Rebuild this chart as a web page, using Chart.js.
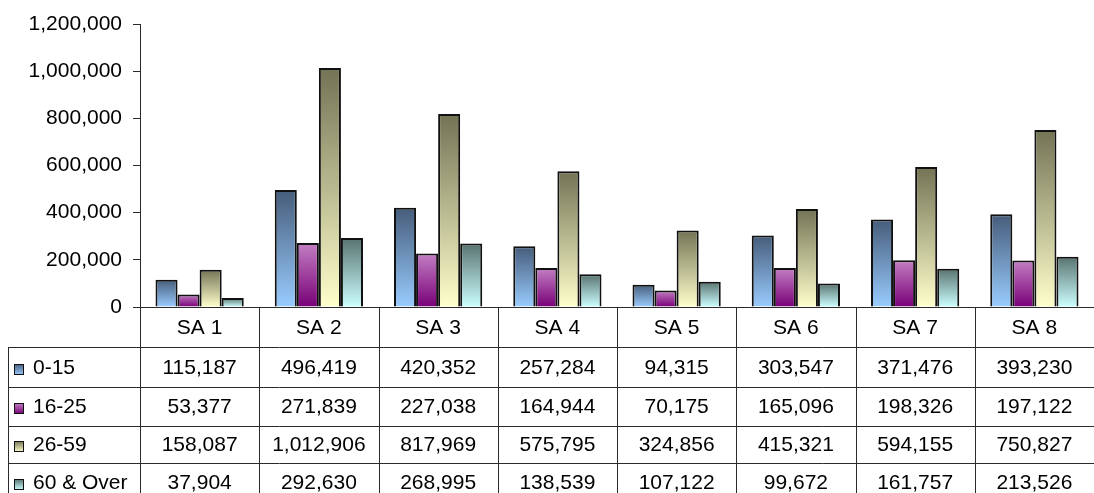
<!DOCTYPE html>
<html>
<head>
<meta charset="utf-8">
<script src="https://cdn.jsdelivr.net/npm/chart.js@4/dist/chart.umd.min.js"></script>
<style>
  html, body { margin: 0; padding: 0; background: #ffffff; }
  #wrap { width: 1094px; height: 493px; position: relative; }
</style>
</head>
<body>
<div id="wrap"><canvas id="chart"></canvas></div>
<script>
// Population by age band for each service area
const categories = ['SA 1', 'SA 2', 'SA 3', 'SA 4', 'SA 5', 'SA 6', 'SA 7', 'SA 8'];
const seriesNames = ['0-15', '16-25', '26-59', '60 & Over'];
const age0to15  = [115187, 496419, 420352, 257284, 94315, 303547, 371476, 393230];
const age16to25 = [53377, 271839, 227038, 164944, 70175, 165096, 198326, 197122];
const age26to59 = [158087, 1012906, 817969, 575795, 324856, 415321, 594155, 750827];
const age60plus = [37904, 292630, 268995, 138539, 107122, 99672, 161757, 213526];
const yMin = 0, yMax = 1200000, yStep = 200000;

// gradient colours (top of bar, bottom of bar)
const palette = [
  ['#465c7a', '#99ccff'],
  ['#c37fc3', '#780078'],
  ['#737355', '#ffffcc'],
  ['#587370', '#ccffff']
];

const FONT = '"Liberation Sans", Arial, Helvetica, sans-serif';
const fmt = v => v.toLocaleString('en-US');

function barGradient(idx) {
  return function (ctx) {
    const chart = ctx.chart;
    if (!chart.chartArea || ctx.type !== 'data') return palette[idx][1];
    const y = chart.scales.y;
    const top = y.getPixelForValue(ctx.raw);
    const base = y.getPixelForValue(0);
    if (base - top < 1) return palette[idx][1];
    const g = chart.ctx.createLinearGradient(0, top, 0, base);
    g.addColorStop(0, palette[idx][0]);
    g.addColorStop(1, palette[idx][1]);
    return g;
  };
}

const allSeries = [age0to15, age16to25, age26to59, age60plus];

// data table under the plot: header row with categories, one row per series
const tableRows = [307, 347, 387, 426, 463, 501];
const tableLeft = 8;
const lineColor = '#2a2a2a';

const dataTable = {
  id: 'dataTable',
  afterDraw(chart) {
    const c = chart.ctx;
    const area = chart.chartArea;
    const xs = chart.scales.x;
    const ys = chart.scales.y;
    const zeroY = Math.round(ys.getPixelForValue(0)) + 0.5;
    const n = categories.length;
    const centers = categories.map((_, i) => xs.getPixelForValue(i));
    const bounds = [area.left];
    for (let i = 1; i < n; i++) bounds.push((centers[i - 1] + centers[i]) / 2);
    bounds.push(area.right);

    c.save();
    c.lineWidth = 1;
    c.strokeStyle = lineColor;

    // zero line / top of header row
    c.beginPath();
    c.moveTo(area.left, zeroY);
    c.lineTo(area.right, zeroY);
    c.stroke();

    // vertical cell borders
    const H = chart.height;
    bounds.forEach((bx, i) => {
      if (i === bounds.length - 1) return;
      const x = Math.round(bx) + 0.5;
      c.beginPath();
      c.moveTo(x, zeroY);
      c.lineTo(x, H);
      c.stroke();
    });
    c.beginPath();
    c.moveTo(tableLeft + 0.5, tableRows[1]);
    c.lineTo(tableLeft + 0.5, H);
    c.stroke();

    // horizontal row borders
    for (let r = 1; r <= seriesNames.length; r++) {
      const y = tableRows[r] + 0.5;
      c.beginPath();
      c.moveTo(tableLeft, y);
      c.lineTo(area.right, y);
      c.stroke();
    }

    c.fillStyle = '#000';
    c.font = '21px ' + FONT;
    c.textBaseline = 'middle';
    c.textAlign = 'center';

    // header: category names
    const hy = (tableRows[0] + tableRows[1]) / 2 + 1;
    categories.forEach((cat, i) => c.fillText(cat, centers[i], hy));

    // series rows
    seriesNames.forEach((name, r) => {
      const cy = (tableRows[r + 1] + tableRows[r + 2]) / 2 + 1;
      // legend swatch
      const sx = 14, sw = 10, sh = 11, sy = Math.round(cy - sh / 2) + 1;
      const g = c.createLinearGradient(0, sy, 0, sy + sh);
      g.addColorStop(0, palette[r][0]);
      g.addColorStop(1, palette[r][1]);
      c.fillStyle = g;
      c.fillRect(sx, sy, sw, sh);
      c.strokeStyle = '#111';
      c.strokeRect(sx + 0.5, sy + 0.5, sw - 1, sh - 1);
      c.fillStyle = '#000';
      c.textAlign = 'left';
      c.fillText(name, 33, cy);
      c.textAlign = 'center';
      allSeries[r].forEach((v, i) => c.fillText(fmt(v), centers[i], cy));
    });
    c.restore();
  }
};

new Chart(document.getElementById('chart'), {
  type: 'bar',
  data: {
    labels: categories,
    datasets: seriesNames.map((name, i) => ({
      label: name,
      data: allSeries[i],
      backgroundColor: barGradient(i),
      borderColor: '#111111',
      borderWidth: 2,
      borderSkipped: 'start',
      categoryPercentage: 0.74,
      barPercentage: 1.0
    }))
  },
  options: {
    responsive: true,
    maintainAspectRatio: false,
    animation: false,
    layout: { padding: { top: 24, bottom: 186, left: 0, right: 0 } },
    plugins: { legend: { display: false }, tooltip: { enabled: false } },
    scales: {
      x: { display: false },
      y: {
        min: yMin,
        max: yMax,
        afterFit(scale) { scale.width = 140; },
        ticks: {
          stepSize: yStep,
          color: '#000',
          padding: 11,
          font: { family: FONT, size: 21 },
          callback: v => fmt(v)
        },
        grid: { drawOnChartArea: false, drawTicks: true, tickLength: 7, color: lineColor },
        border: { display: true, color: lineColor, width: 1 }
      }
    }
  },
  plugins: [dataTable]
});
</script>
</body>
</html>
